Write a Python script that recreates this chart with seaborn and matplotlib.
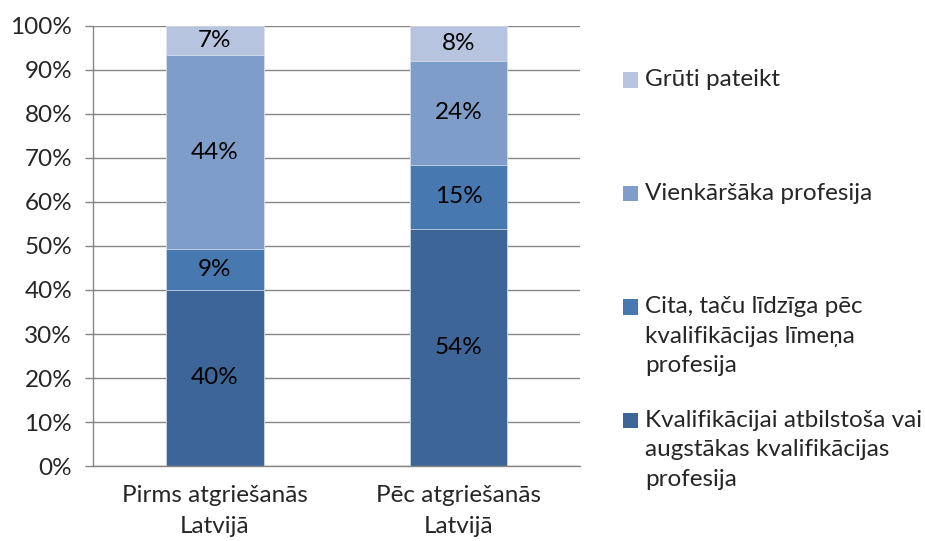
import numpy as np
import pandas as pd
import matplotlib
matplotlib.use("Agg")
import matplotlib.pyplot as plt
import seaborn as sns
from matplotlib.patches import Rectangle
from matplotlib.legend_handler import HandlerPatch

# ---------- DATA ----------
categories = ["Pirms atgriešanās\nLatvijā", "Pēc atgriešanās\nLatvijā"]
series = [
    "Kvalifikācijai atbilstoša vai\naugstākas kvalifikācijas\nprofesija",
    "Cita, taču līdzīga pēc\nkvalifikācijas līmeņa\nprofesija",
    "Vienkāršāka profesija",
    "Grūti pateikt",
]
kvalif = [40.1, 53.9]
cita = [9.2, 14.6]
vienk = [44.0, 23.6]
gruti = [6.7, 7.9]
colors = ["#3E6597", "#4878B0", "#7F9DC9", "#B7C4DF"]
yticks = list(range(0, 101, 10))

FONT = 17.5
GRID = "#868686"

sns.set_style("white")
plt.rcParams["font.family"] = ["Lato", "DejaVu Sans"]

values = np.array([kvalif, cita, vienk, gruti])
tops = values.cumsum(axis=0)
bottoms = tops - values

fig = plt.figure(figsize=(9.25, 5.41), dpi=100)
ax = fig.add_axes([0.1005, 0.1386, 0.527, 0.8134])

# draw from the tallest (cumulative) layer down so the stack shows
for i in range(len(series) - 1, -1, -1):
    df = pd.DataFrame({"cat": categories, "val": tops[i]})
    sns.barplot(data=df, x="cat", y="val", color=colors[i], width=0.4,
                saturation=1, errorbar=None, ax=ax, zorder=2,
                edgecolor="#dfe6f1", linewidth=0.5)

for i in range(len(series)):
    for j in range(len(categories)):
        ax.text(j, bottoms[i, j] + values[i, j] / 2, f"{values[i, j]:.0f}%",
                ha="center", va="center", fontsize=FONT, color="black", zorder=3)

ax.set_xlim(-0.5, 1.5)
ax.set_ylim(0, 100)
ax.set_yticks(yticks)
ax.set_yticklabels([f"{t}%" for t in yticks], fontsize=FONT)
ax.set_xticks(range(len(categories)))
ax.set_xticklabels(categories, fontsize=FONT, linespacing=1.55)
ax.set_xticks([-0.5, 0.5, 1.5], minor=True)
ax.tick_params(axis="x", which="major", length=0, pad=14)
ax.tick_params(axis="x", which="minor", length=5, color=GRID, width=1, direction="out")
ax.tick_params(axis="y", length=6, color=GRID, width=1, direction="out", pad=9, left=True)
ax.set_xlabel("")
ax.set_ylabel("")
ax.yaxis.grid(True, color=GRID, linewidth=1)
ax.set_axisbelow(True)
for s in ["top", "right"]:
    ax.spines[s].set_visible(False)
for s in ["left", "bottom"]:
    ax.spines[s].set_color(GRID)
    ax.spines[s].set_linewidth(1)

# legend: squares aligned with the first line of each label
NLINES = 3
LSP = 1.5


def top_square(legend, orig_handle, xdescent, ydescent, width, height, fontsize):
    shift = (LSP * 0.67 + 0.2) * fontsize
    return Rectangle((-xdescent, -ydescent + shift), width, height)


order = [3, 2, 1, 0]
handles = [Rectangle((0, 0), 1, 1, facecolor=colors[i], edgecolor="none") for i in order]
labels = []
for i in order:
    lab = series[i]
    lab = lab + "\n" * (NLINES - 1 - lab.count("\n"))
    labels.append(lab)

leg = fig.legend(handles, labels, loc="upper left", bbox_to_anchor=(0.6735, 0.872),
                 frameon=False, fontsize=FONT, handlelength=0.6, handleheight=0.6,
                 handletextpad=0.3, labelspacing=1.38, borderpad=0, borderaxespad=0,
                 handler_map={Rectangle: HandlerPatch(patch_func=top_square)})
for t in leg.get_texts():
    t.set_linespacing(LSP)

fig.savefig("out.png", dpi=100)
